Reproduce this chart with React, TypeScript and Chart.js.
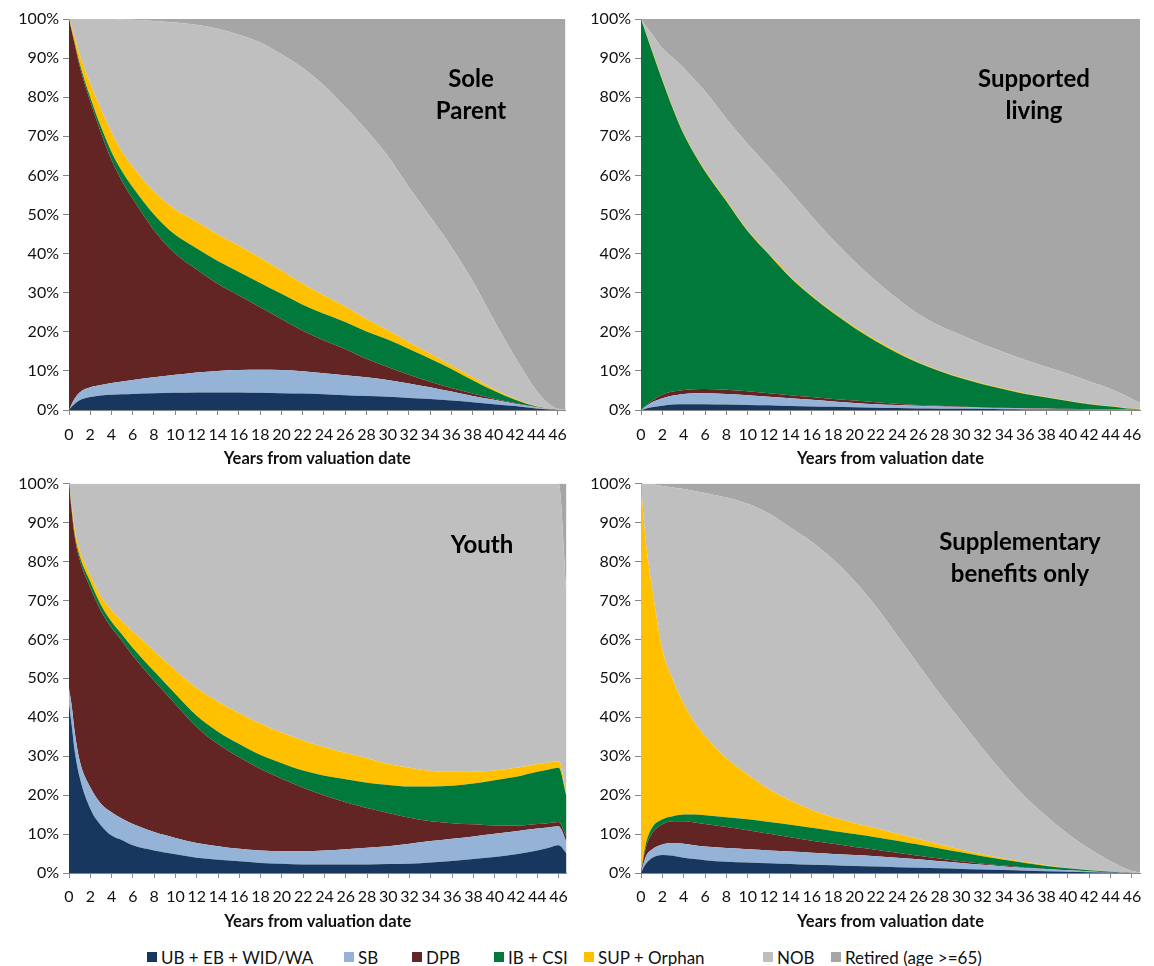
import React, { useEffect, useRef } from 'react';
import { Chart, registerables } from 'chart.js';

Chart.register(...registerables);

// ---------- data ----------
const YEARS = [0, 0.25, 0.5, 1, 2, 3, 4, 5, 6, 8, 10, 12, 14, 16, 18, 20, 22, 24, 26, 28, 30, 32, 34, 36, 38, 40, 42, 44, 45, 46, 46.75];
const X_TICKS = [0, 2, 4, 6, 8, 10, 12, 14, 16, 18, 20, 22, 24, 26, 28, 30, 32, 34, 36, 38, 40, 42, 44, 46];
const Y_TICKS = [0, 10, 20, 30, 40, 50, 60, 70, 80, 90, 100];
const SERIES_NAMES = ['UB + EB + WID/WA', 'SB', 'DPB', 'IB + CSI', 'SUP + Orphan', 'NOB', 'Retired (age >=65)'];
const SERIES_COLORS = ['#17375E', '#95B3D7', '#632523', '#00793A', '#FFC000', '#BFBFBF', '#A6A6A6'];
const X_TITLE = 'Years from valuation date';

// Sole Parent
const SOLE_UB = [0, 0.8, 1.5, 2.5, 3.3, 3.7, 3.9, 4.0, 4.1, 4.3, 4.4, 4.5, 4.5, 4.5, 4.4, 4.3, 4.2, 4.0, 3.8, 3.6, 3.4, 3.1, 2.8, 2.4, 2.0, 1.5, 1.0, 0.4, 0.2, 0, 0];
const SOLE_SB = [0, 0.7, 1.3, 2.0, 2.5, 2.7, 3.0, 3.3, 3.6, 4.1, 4.6, 5.1, 5.5, 5.7, 5.9, 5.9, 5.7, 5.4, 5.1, 4.8, 4.3, 3.7, 3.0, 2.3, 1.6, 1.1, 0.6, 0.3, 0.1, 0, 0];
const SOLE_DPB = [100, 95.5, 91.2, 83.5, 73.2, 64.6, 57.1, 51.2, 46.3, 37.6, 31.0, 26.4, 22.3, 19.1, 16.0, 13.1, 10.4, 8.4, 6.7, 4.7, 3.3, 2.2, 1.4, 0.9, 0.6, 0.3, 0.2, 0.1, 0.05, 0, 0];
const SOLE_IB = [0, 0.2, 0.4, 0.7, 1.0, 1.5, 2.0, 2.5, 3.0, 4.0, 4.8, 5.4, 5.8, 6.0, 6.2, 6.4, 6.6, 6.8, 6.9, 7.0, 7.0, 6.6, 5.9, 4.9, 3.4, 2.0, 0.8, 0.1, 0.05, 0, 0];
const SOLE_SUP = [0, 0.8, 1.4, 2.3, 3.5, 4.5, 5.0, 5.0, 5.2, 5.8, 6.5, 6.8, 6.8, 6.7, 6.4, 6.0, 5.4, 4.7, 4.0, 3.2, 2.4, 1.7, 1.3, 0.9, 0.8, 0.5, 0.3, 0.1, 0.05, 0, 0];
const SOLE_NOB = [0, 2.0, 4.2, 9.0, 16.5, 23.0, 29.0, 33.9, 37.6, 43.7, 47.8, 50.3, 52.6, 54.0, 55.1, 55.3, 55.2, 53.7, 51.0, 48.3, 44.6, 39.7, 35.1, 30.3, 24.6, 17.6, 10.6, 4.0, 1.55, 0.3, 0];
const SOLE_RET = [0, 0, 0, 0, 0, 0, 0, 0.1, 0.2, 0.5, 0.9, 1.5, 2.5, 4.0, 6.0, 9.0, 12.5, 17.0, 22.5, 28.4, 35.0, 43.0, 50.5, 58.3, 67.0, 77.0, 86.5, 95.0, 98.0, 99.7, 100];

// Supported living
const SUPP_LIV_UB = [0, 0.2, 0.4, 0.7, 1.1, 1.4, 1.5, 1.5, 1.5, 1.4, 1.3, 1.2, 1.0, 0.9, 0.8, 0.7, 0.6, 0.5, 0.4, 0.35, 0.3, 0.25, 0.2, 0.15, 0.1, 0.1, 0.05, 0.05, 0.03, 0.02, 0.02];
const SUPP_LIV_SB = [0, 0.3, 0.6, 1.2, 1.9, 2.3, 2.6, 2.8, 2.8, 2.7, 2.5, 2.2, 2.0, 1.7, 1.4, 1.1, 0.9, 0.8, 0.7, 0.55, 0.45, 0.35, 0.3, 0.25, 0.2, 0.1, 0.1, 0.05, 0.04, 0.03, 0.02];
const SUPP_LIV_DPB = [0, 0.1, 0.2, 0.4, 0.9, 1.0, 1.0, 1.0, 1.1, 1.1, 1.0, 0.9, 0.8, 0.7, 0.6, 0.6, 0.5, 0.3, 0.2, 0.2, 0.15, 0.1, 0.1, 0.1, 0.1, 0.1, 0.05, 0.05, 0.03, 0.02, 0.01];
const SUPP_LIV_IB = [100, 97.4, 94.8, 89.7, 80.4, 72.3, 65.4, 60.2, 55.6, 48.2, 40.9, 35.4, 30.0, 25.7, 22.0, 18.6, 15.6, 13.0, 10.7, 8.8, 7.2, 5.9, 4.7, 3.6, 2.8, 2.0, 1.3, 0.75, 0.5, 0.23, 0.15];
const SUPP_LIV_SUP = [0, 0.1, 0.2, 0.3, 0.3, 0.3, 0.3, 0.3, 0.3, 0.3, 0.3, 0.3, 0.3, 0.3, 0.3, 0.3, 0.3, 0.3, 0.2, 0.2, 0.2, 0.2, 0.2, 0.2, 0.15, 0.15, 0.1, 0.1, 0.1, 0.1, 0.1];
const SUPP_LIV_NOB = [0, 0.9, 1.8, 4.0, 7.9, 12.7, 16.7, 18.7, 20.2, 20.8, 22.0, 22.0, 21.7, 20.2, 18.4, 16.7, 15.1, 13.6, 12.3, 11.4, 10.9, 10.0, 9.3, 8.5, 7.65, 6.85, 5.7, 4.4, 3.5, 2.4, 1.5];
const SUPP_LIV_RET = [0, 1.0, 2.0, 3.7, 7.5, 10.0, 12.5, 15.5, 18.5, 25.5, 32.0, 38.0, 44.2, 50.5, 56.5, 62.0, 67.0, 71.5, 75.5, 78.5, 80.8, 83.2, 85.2, 87.2, 89.0, 90.7, 92.7, 94.6, 95.8, 97.2, 98.2];

// Youth
const YOUTH_UB = [43, 38, 32, 24.6, 16.5, 12.2, 9.6, 8.4, 7.1, 5.8, 4.8, 3.9, 3.4, 3.0, 2.6, 2.4, 2.2, 2.2, 2.2, 2.2, 2.3, 2.4, 2.7, 3.1, 3.6, 4.1, 4.8, 5.8, 6.4, 7.1, 5.0];
const YOUTH_SB = [4.5, 5, 5, 4.3, 5.5, 5.6, 6.0, 5.5, 5.5, 4.7, 4.2, 3.8, 3.5, 3.2, 3.2, 3.2, 3.4, 3.6, 3.9, 4.3, 4.6, 5.1, 5.5, 5.7, 5.8, 6.0, 5.9, 5.6, 5.3, 4.9, 3.0];
const YOUTH_DPB = [52.5, 50, 50, 51.6, 51.3, 49.5, 47.4, 45.7, 43.2, 38.9, 34.4, 29.8, 26.2, 23.5, 20.9, 18.6, 16.3, 14.1, 12.1, 10.2, 8.5, 6.7, 5.1, 4.0, 3.1, 2.1, 1.5, 1.2, 1.1, 1.1, 1.2];
const YOUTH_IB = [0, 0.4, 0.6, 1.0, 1.5, 1.5, 1.5, 1.6, 2.0, 2.4, 2.6, 2.9, 3.2, 3.4, 3.6, 4.0, 4.4, 5.1, 5.9, 6.5, 7.2, 8.0, 8.9, 9.6, 10.5, 11.6, 12.5, 13.4, 13.7, 13.9, 10.5];
const YOUTH_SUP = [0, 1.1, 1.4, 1.5, 1.7, 2.2, 3.0, 3.3, 4.2, 5.2, 6.0, 7.1, 7.7, 7.9, 8.0, 7.8, 7.7, 7.3, 6.7, 6.3, 5.4, 4.8, 4.0, 3.6, 3.0, 2.5, 2.3, 2.0, 1.8, 1.7, 0.8];
const YOUTH_NOB = [0, 5.5, 11, 17, 23.5, 29, 32.5, 35.5, 38, 43, 48, 52.5, 56, 59, 61.7, 64, 66, 67.7, 69.2, 70.5, 72, 73, 73.8, 74, 74, 73.7, 73, 72, 71.7, 71.3, 52];
const YOUTH_RET = [0, 0, 0, 0, 0, 0, 0, 0, 0, 0, 0, 0, 0, 0, 0, 0, 0, 0, 0, 0, 0, 0, 0, 0, 0, 0, 0, 0, 0, 0, 27.5];

// Supplementary benefits only
const SUPL_UB = [0, 1.5, 2.5, 3.8, 4.6, 4.4, 3.9, 3.6, 3.3, 2.9, 2.7, 2.5, 2.3, 2.1, 2.0, 1.8, 1.65, 1.5, 1.35, 1.2, 1.05, 0.9, 0.75, 0.6, 0.45, 0.3, 0.2, 0.1, 0.05, 0, 0];
const SUPL_SB = [0, 1.0, 2.0, 2.2, 2.7, 3.3, 3.6, 3.5, 3.5, 3.5, 3.4, 3.3, 3.2, 3.1, 2.9, 2.8, 2.65, 2.4, 2.15, 1.8, 1.55, 1.2, 0.95, 0.7, 0.55, 0.4, 0.2, 0.1, 0.05, 0, 0];
const SUPL_DPB = [0, 1.5, 2.5, 4.0, 5.2, 5.6, 5.8, 5.9, 5.8, 5.4, 4.9, 4.3, 3.7, 3.1, 2.6, 2.1, 1.7, 1.3, 0.9, 0.7, 0.4, 0.3, 0.2, 0.1, 0.05, 0.02, 0.02, 0.01, 0.01, 0, 0];
const SUPL_IB = [0, 0.5, 1.0, 1.5, 1.3, 1.3, 1.7, 2.0, 2.2, 2.5, 2.8, 3.0, 3.2, 3.3, 3.3, 3.3, 3.2, 3.1, 2.9, 2.6, 2.3, 1.9, 1.5, 1.2, 0.75, 0.48, 0.28, 0.09, 0.04, 0, 0];
const SUPL_SUP = [100, 86.5, 76, 62.5, 43.7, 34.9, 28.5, 23.8, 20.4, 15.2, 11.5, 8.4, 6.2, 4.6, 3.5, 2.8, 2.3, 1.8, 1.4, 1.0, 0.7, 0.5, 0.3, 0.2, 0.2, 0.1, 0.05, 0.02, 0.01, 0, 0];
const SUPL_NOB = [0, 9, 16, 25.9, 41.9, 49.5, 55.1, 59.3, 62.4, 66.9, 69.5, 70.8, 70.1, 68.8, 66.2, 62.2, 57, 50.9, 44.8, 38.7, 33, 27.2, 21.8, 16.7, 12.5, 8.7, 5.45, 2.68, 1.44, 0.5, 0.15];
const SUPL_RET = [0, 0, 0, 0.1, 0.6, 1.0, 1.4, 1.9, 2.4, 3.6, 5.2, 7.7, 11.3, 15, 19.5, 25, 31.5, 39, 46.5, 54, 61, 68, 74.5, 80.5, 85.5, 90, 93.8, 97, 98.4, 99.5, 99.85];

// ---------- chart component ----------
const FONT = 'Lato, "Open Sans", sans-serif';
const AXIS_COLOR = '#868686';

type PanelProps = {
  series: number[][];
  left: number;
  top: number;
  width: number;
  height: number;
  padRight: number;
  padTop: number;
  yAxisW: number;
  xAxisH: number;
  tickPad: number;
  titleBottom: number;
};

function Panel(p: PanelProps) {
  const ref = useRef<HTMLCanvasElement | null>(null);
  useEffect(() => {
    if (!ref.current) return;
    const datasets = p.series.map((vals, i) => ({
      label: SERIES_NAMES[i],
      data: YEARS.map((x, j) => ({ x, y: vals[j] })),
      backgroundColor: SERIES_COLORS[i],
      borderColor: SERIES_COLORS[i],
      borderWidth: 0,
      pointRadius: 0,
      cubicInterpolationMode: 'monotone',
      fill: i === 0 ? 'origin' : '-1',
    }));
    const chart = new Chart(ref.current, {
      type: 'line',
      data: { datasets },
      options: {
        animation: false,
        responsive: false,
        maintainAspectRatio: false,
        devicePixelRatio: 1,
        layout: { padding: { left: 0, right: p.padRight, top: p.padTop, bottom: 0 } },
        plugins: { legend: { display: false }, tooltip: { enabled: false } },
        scales: {
          x: {
            type: 'linear',
            min: 0,
            max: 46.75,
            afterBuildTicks: (s: any) => {
              s.ticks = X_TICKS.map((v) => ({ value: v }));
            },
            afterFit: (s: any) => {
              s.height = p.xAxisH;
            },
            grid: { drawOnChartArea: false, drawTicks: true, tickLength: 5, color: AXIS_COLOR },
            border: { display: true, color: AXIS_COLOR },
            ticks: {
              autoSkip: false,
              maxRotation: 0,
              minRotation: 0,
              padding: p.tickPad,
              color: '#111',
              font: { family: FONT, size: 16 },
            },
            title: {
              display: true,
              text: X_TITLE,
              color: '#111',
              font: { family: FONT, size: 16.5, weight: 'bold' },
              padding: { top: 0, bottom: p.titleBottom },
            },
          },
          y: {
            stacked: true,
            min: 0,
            max: 100,
            afterBuildTicks: (s: any) => {
              s.ticks = Y_TICKS.map((v) => ({ value: v }));
            },
            afterFit: (s: any) => {
              s.width = p.yAxisW;
            },
            grid: { drawOnChartArea: false, drawTicks: true, tickLength: 6, color: AXIS_COLOR },
            border: { display: true, color: AXIS_COLOR },
            ticks: {
              padding: 4,
              color: '#111',
              font: { family: FONT, size: 16 },
              callback: (v: any) => v + '%',
            },
          },
        },
      } as any,
    });
    return () => chart.destroy();
  }, []);
  return (
    <canvas
      ref={ref}
      width={p.width}
      height={p.height}
      style={{ position: 'absolute', left: p.left, top: p.top, width: p.width, height: p.height }}
    />
  );
}

function PanelTitle({ lines, cx, cy }: { lines: string[]; cx: number; cy: number }) {
  return (
    <div
      style={{
        position: 'absolute',
        left: cx - 150,
        top: cy - 16,
        width: 300,
        textAlign: 'center',
        fontFamily: FONT,
        fontWeight: 700,
        fontSize: 24,
        lineHeight: '32px',
        color: '#000',
      }}
    >
      {lines.map((l, i) => (
        <div key={i}>{l}</div>
      ))}
    </div>
  );
}

const LEGEND_X = [147, 344, 412, 494, 584, 763, 831];

export default function App() {
  return (
    <div style={{ position: 'absolute', left: 0, top: 0, width: 1154, height: 966, background: '#fff', overflow: 'hidden' }}>
      <Panel
        series={[SOLE_UB, SOLE_SB, SOLE_DPB, SOLE_IB, SOLE_SUP, SOLE_NOB, SOLE_RET]}
        left={0} top={0} width={577} height={470}
        padRight={7} padTop={19} yAxisW={69} xAxisH={60} tickPad={10} titleBottom={1}
      />
      <Panel
        series={[SUPP_LIV_UB, SUPP_LIV_SB, SUPP_LIV_DPB, SUPP_LIV_IB, SUPP_LIV_SUP, SUPP_LIV_NOB, SUPP_LIV_RET]}
        left={577} top={0} width={577} height={470}
        padRight={14} padTop={19} yAxisW={64} xAxisH={60} tickPad={10} titleBottom={1}
      />
      <Panel
        series={[YOUTH_UB, YOUTH_SB, YOUTH_DPB, YOUTH_IB, YOUTH_SUP, YOUTH_NOB, YOUTH_RET]}
        left={0} top={470} width={577} height={470}
        padRight={7} padTop={13} yAxisW={69} xAxisH={67} tickPad={9} titleBottom={8}
      />
      <Panel
        series={[SUPL_UB, SUPL_SB, SUPL_DPB, SUPL_IB, SUPL_SUP, SUPL_NOB, SUPL_RET]}
        left={577} top={470} width={577} height={470}
        padRight={14} padTop={13} yAxisW={64} xAxisH={67} tickPad={9} titleBottom={8}
      />
      <PanelTitle lines={['Sole', 'Parent']} cx={471} cy={78} />
      <PanelTitle lines={['Supported', 'living']} cx={1034} cy={78} />
      <PanelTitle lines={['Youth']} cx={482} cy={544} />
      <PanelTitle lines={['Supplementary', 'benefits only']} cx={1020} cy={541} />
      {SERIES_NAMES.map((name, i) => (
        <div
          key={name}
          style={{
            position: 'absolute',
            left: LEGEND_X[i],
            top: 946,
            height: 22,
            display: 'flex',
            alignItems: 'center',
            fontFamily: FONT,
            fontSize: 17,
            color: '#111',
            whiteSpace: 'nowrap',
          }}
        >
          <span style={{ display: 'inline-block', width: 10, height: 10, background: SERIES_COLORS[i], marginRight: 4 }} />
          {name}
        </div>
      ))}
    </div>
  );
}
